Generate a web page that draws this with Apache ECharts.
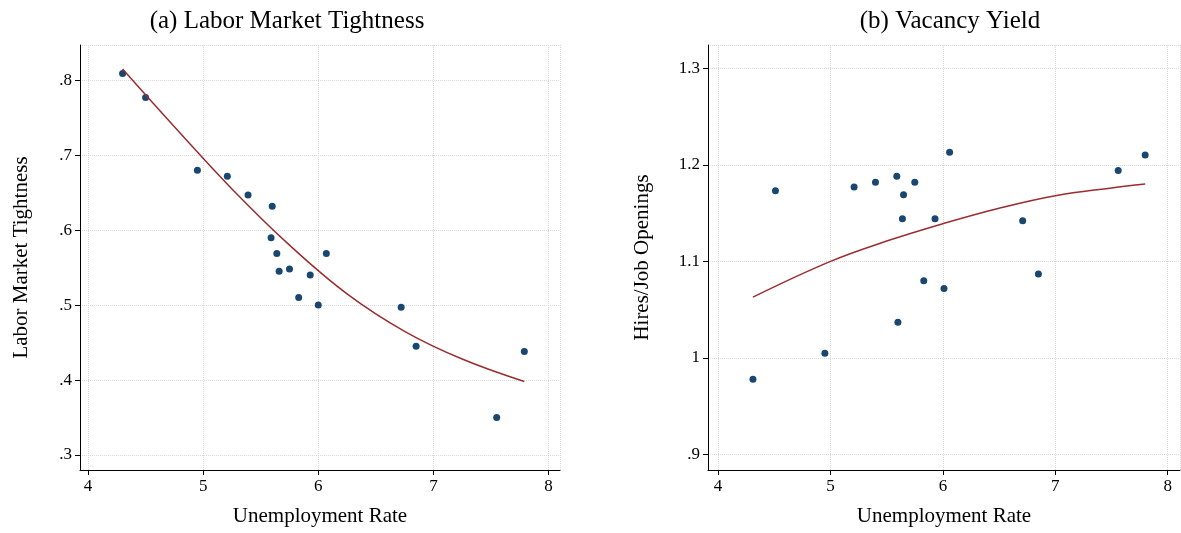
<!DOCTYPE html>
<html>
<head>
<meta charset="utf-8">
<script src="https://cdn.jsdelivr.net/npm/echarts@6/dist/echarts.min.js"></script>
<style>html,body{margin:0;padding:0;background:#fff}#chart{width:1181px;height:533px}</style>
</head>
<body>
<div id="chart"></div>
<script>
// unemployment rate (shared x)
var unempL = [4.30,4.50,4.95,5.21,5.39,5.60,5.59,5.64,5.66,5.75,5.83,5.93,6.00,6.07,6.72,6.85,7.55,7.79];
var tightness = [.809,.777,.680,.672,.647,.632,.590,.569,.545,.548,.510,.540,.500,.569,.497,.445,.350,.438];
var unempR = [4.31,4.51,4.95,5.21,5.40,5.59,5.60,5.64,5.65,5.75,5.83,5.93,6.01,6.06,6.71,6.85,7.56,7.80];
var yieldV = [.978,1.173,1.005,1.177,1.182,1.188,1.037,1.144,1.169,1.182,1.080,1.144,1.072,1.213,1.142,1.087,1.194,1.210];
// fitted curves
var fitLx = [4.30,4.75,5.25,5.75,6.25,6.75,7.25,7.79];
var fitLy = [.815,.738,.655,.580,.515,.465,.428,.398];
var fitRx = [4.31,5.0,5.5,6.0,6.5,7.0,7.5,7.80];
var fitRy = [1.063,1.100,1.121,1.139,1.155,1.168,1.176,1.180];

function pairs(xs, ys){ return xs.map(function(x,i){ return [x, ys[i]]; }); }
var font = '"Liberation Serif", "DejaVu Serif", serif';
var dotColor = '#1a476f', lineColor = '#9b2d30';

function xAx(idx){
  return {gridIndex: idx, type:'value', min: idx ? 3.91 : 3.93, max: idx ? 8.11 : 8.1, splitNumber:4,
    name:'Unemployment Rate', nameLocation:'middle', nameGap:36,
    nameTextStyle:{fontFamily:font, fontSize:21, color:'#000'},
    axisLine:{show:true, onZero:false, lineStyle:{color:'#000'}},
    axisTick:{show:true, length:5, lineStyle:{color:'#000'}},
    axisLabel:{fontFamily:font, fontSize:17, color:'#000', showMinLabel:false, showMaxLabel:false},
    splitLine:{show:true, lineStyle:{color:'#d8d8d8', type:'dotted'}}};
}
function yAx(idx, name, min, max, fmt){
  return {gridIndex: idx, type:'value', min:min, max:max, splitNumber:5,
    name:name, nameLocation:'middle', nameGap:idx ? 55 : 48,
    nameTextStyle:{fontFamily:font, fontSize:21, color:'#000'},
    axisLine:{show:true, onZero:false, lineStyle:{color:'#000'}},
    axisTick:{show:true, length:5, lineStyle:{color:'#000'}},
    axisLabel:{fontFamily:font, fontSize:17, color:'#000', formatter:fmt, showMinLabel:false, showMaxLabel:false},
    splitLine:{show:true, lineStyle:{color:'#d8d8d8', type:'dotted'}}};
}
function dropZero(v){ var s = (Math.round(v*10)/10).toString(); return s.replace(/^0\./,'.'); }

var chart = echarts.init(document.getElementById('chart'));
chart.setOption({
  animation:false,
  title:[
    {text:'(a) Labor Market Tightness', left:282, top:4, textAlign:'center', textStyle:{fontFamily:font, fontSize:25, fontWeight:'normal', color:'#000'}},
    {text:'(b) Vacancy Yield', left:945, top:4, textAlign:'center', textStyle:{fontFamily:font, fontSize:25, fontWeight:'normal', color:'#000'}}
  ],
  grid:[
    {left:80, right:621, top:45, bottom:63},
    {left:708, right:1, top:45, bottom:63}
  ],
  xAxis:[xAx(0), xAx(1)],
  yAxis:[
    yAx(0, 'Labor Market Tightness', .28, .847, dropZero),
    yAx(1, 'Hires/Job Openings', .884, 1.324, dropZero)
  ],
  series:[
    {type:'scatter', xAxisIndex:0, yAxisIndex:0, data:pairs(unempL, tightness), symbolSize:7, itemStyle:{color:dotColor, opacity:1}},
    {type:'line', xAxisIndex:0, yAxisIndex:0, data:pairs(fitLx, fitLy), smooth:0.4, showSymbol:false, lineStyle:{color:lineColor, width:1.5}},
    {type:'scatter', xAxisIndex:1, yAxisIndex:1, data:pairs(unempR, yieldV), symbolSize:7, itemStyle:{color:dotColor, opacity:1}},
    {type:'line', xAxisIndex:1, yAxisIndex:1, data:pairs(fitRx, fitRy), smooth:0.4, showSymbol:false, lineStyle:{color:lineColor, width:1.5}}
  ]
});
</script>
</body>
</html>
